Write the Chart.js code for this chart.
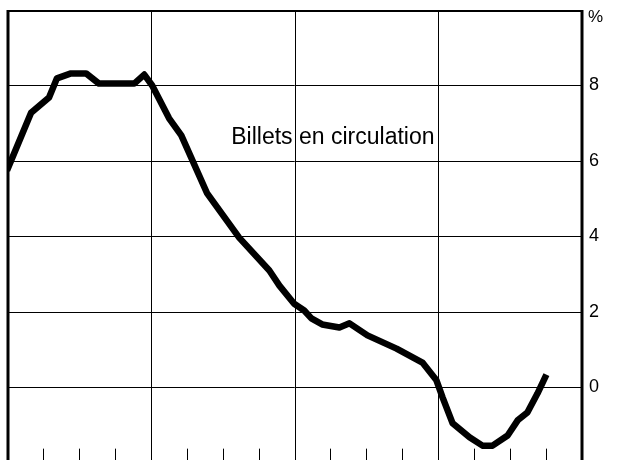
<!DOCTYPE html>
<html><head><meta charset="utf-8">
<script src="https://cdn.jsdelivr.net/npm/chart.js@4/dist/chart.umd.min.js"></script>
<style>
html,body{margin:0;padding:0;background:#fff;overflow:hidden;}
#wrap{width:628px;height:460px;overflow:hidden;position:relative;}
canvas{display:block;}
</style></head>
<body>
<div id="wrap"><canvas id="c" width="628" height="463"></canvas></div>
<script>
// Quarters on x (0..16), percent on y
const xValues = [0, 0.67, 1.17, 1.39, 1.78, 2.2, 2.56, 3.54, 3.82, 4.04, 4.51, 4.85, 5.57, 6.46, 7.3, 7.58, 7.99, 8.27, 8.47, 8.77, 9.25, 9.53, 10.03, 10.84, 11.56, 11.95, 12.12, 12.4, 12.87, 13.23, 13.51, 13.93, 14.21, 14.48, 14.76, 15.01];
const yValues = [5.75, 7.28, 7.68, 8.19, 8.32, 8.32, 8.05, 8.05, 8.29, 8.0, 7.13, 6.68, 5.14, 3.97, 3.1, 2.7, 2.22, 2.04, 1.83, 1.67, 1.59, 1.7, 1.38, 1.03, 0.66, 0.19, -0.26, -0.95, -1.32, -1.54, -1.54, -1.27, -0.87, -0.66, -0.16, 0.34];
const yTickValues = [0, 2, 4, 6, 8, 10];
const yTickLabels = ['0', '2', '4', '6', '8', ''];
const unitLabel = '%';
const majorX = [4, 8, 12];
const minorX = [1, 2, 3, 5, 6, 7, 9, 10, 11, 13, 14, 15];
const seriesLabel = 'Billets en circulation';
const labelPos = {x: 6.24, y: 6.7};

const points = xValues.map((x, i) => ({x: x, y: yValues[i]}));
const FONT = '"Liberation Sans", Arial, sans-serif';

const framePlugin = {
  id: 'frame',
  afterDraw(chart) {
    const ctx = chart.ctx, a = chart.chartArea;
    const xs = chart.scales.x, ys = chart.scales.y;
    ctx.save();
    ctx.strokeStyle = '#000';
    ctx.lineWidth = 1;
    majorX.forEach(v => {
      const px = Math.round(xs.getPixelForValue(v)) + 0.5;
      ctx.beginPath(); ctx.moveTo(px, a.top); ctx.lineTo(px, a.bottom); ctx.stroke();
    });
    minorX.forEach(v => {
      const px = Math.round(xs.getPixelForValue(v)) + 0.5;
      ctx.beginPath(); ctx.moveTo(px, ys.getPixelForValue(-1.62)); ctx.lineTo(px, a.bottom); ctx.stroke();
    });
    ctx.lineWidth = 3;
    ctx.beginPath(); ctx.moveTo(a.left + 1, a.bottom); ctx.lineTo(a.left + 1, a.top); ctx.stroke();
    ctx.lineWidth = 2;
    ctx.beginPath(); ctx.moveTo(a.left, a.top + 1); ctx.lineTo(a.right, a.top + 1); ctx.stroke();
    ctx.lineWidth = 3;
    ctx.beginPath(); ctx.moveTo(a.right, a.top); ctx.lineTo(a.right, a.bottom); ctx.stroke();
    // unit label
    ctx.fillStyle = '#000';
    ctx.font = '17px ' + FONT;
    ctx.textAlign = 'left';
    ctx.textBaseline = 'middle';
    ctx.fillText(unitLabel, a.right + 6, ys.getPixelForValue(10) + 7);
    ctx.restore();
  },
  beforeDatasetsDraw(chart) {
    const ctx = chart.ctx;
    const xs = chart.scales.x, ys = chart.scales.y;
    ctx.save();
    ctx.fillStyle = '#000';
    ctx.font = '23px ' + FONT;
    ctx.textBaseline = 'alphabetic';
    ctx.textAlign = 'left';
    ctx.fillText(seriesLabel, xs.getPixelForValue(labelPos.x), ys.getPixelForValue(labelPos.y) + 9);
    ctx.restore();
  }
};

new Chart(document.getElementById('c'), {
  type: 'scatter',
  data: { datasets: [{
    data: points,
    showLine: true,
    borderColor: '#000',
    borderWidth: 6.5,
    borderJoinStyle: 'round',
    borderCapStyle: 'butt',
    pointRadius: 0,
    tension: 0,
    fill: false
  }]},
  options: {
    responsive: false,
    animation: false,
    events: [],
    layout: { padding: { left: 7, top: 10, right: 0, bottom: 0 } },
    plugins: { legend: { display: false }, tooltip: { enabled: false } },
    scales: {
      x: {
        type: 'linear', min: 0, max: 16, display: false
      },
      y: {
        position: 'right', min: -2, max: 10,
        afterBuildTicks(scale) { scale.ticks = yTickValues.map(v => ({value: v})); },
        afterFit(scale) { scale.width = 46; scale.paddingTop = 0; scale.paddingBottom = 0; },
        grid: { color: '#000', lineWidth: 1, drawTicks: false },
        border: { display: false },
        ticks: {
          color: '#000', padding: 7,
          font: { family: FONT, size: 18 },
          callback: (v) => { const i = yTickValues.indexOf(v); return i >= 0 ? yTickLabels[i] : ''; }
        }
      }
    }
  },
  plugins: [framePlugin]
});
</script>
</body></html>
